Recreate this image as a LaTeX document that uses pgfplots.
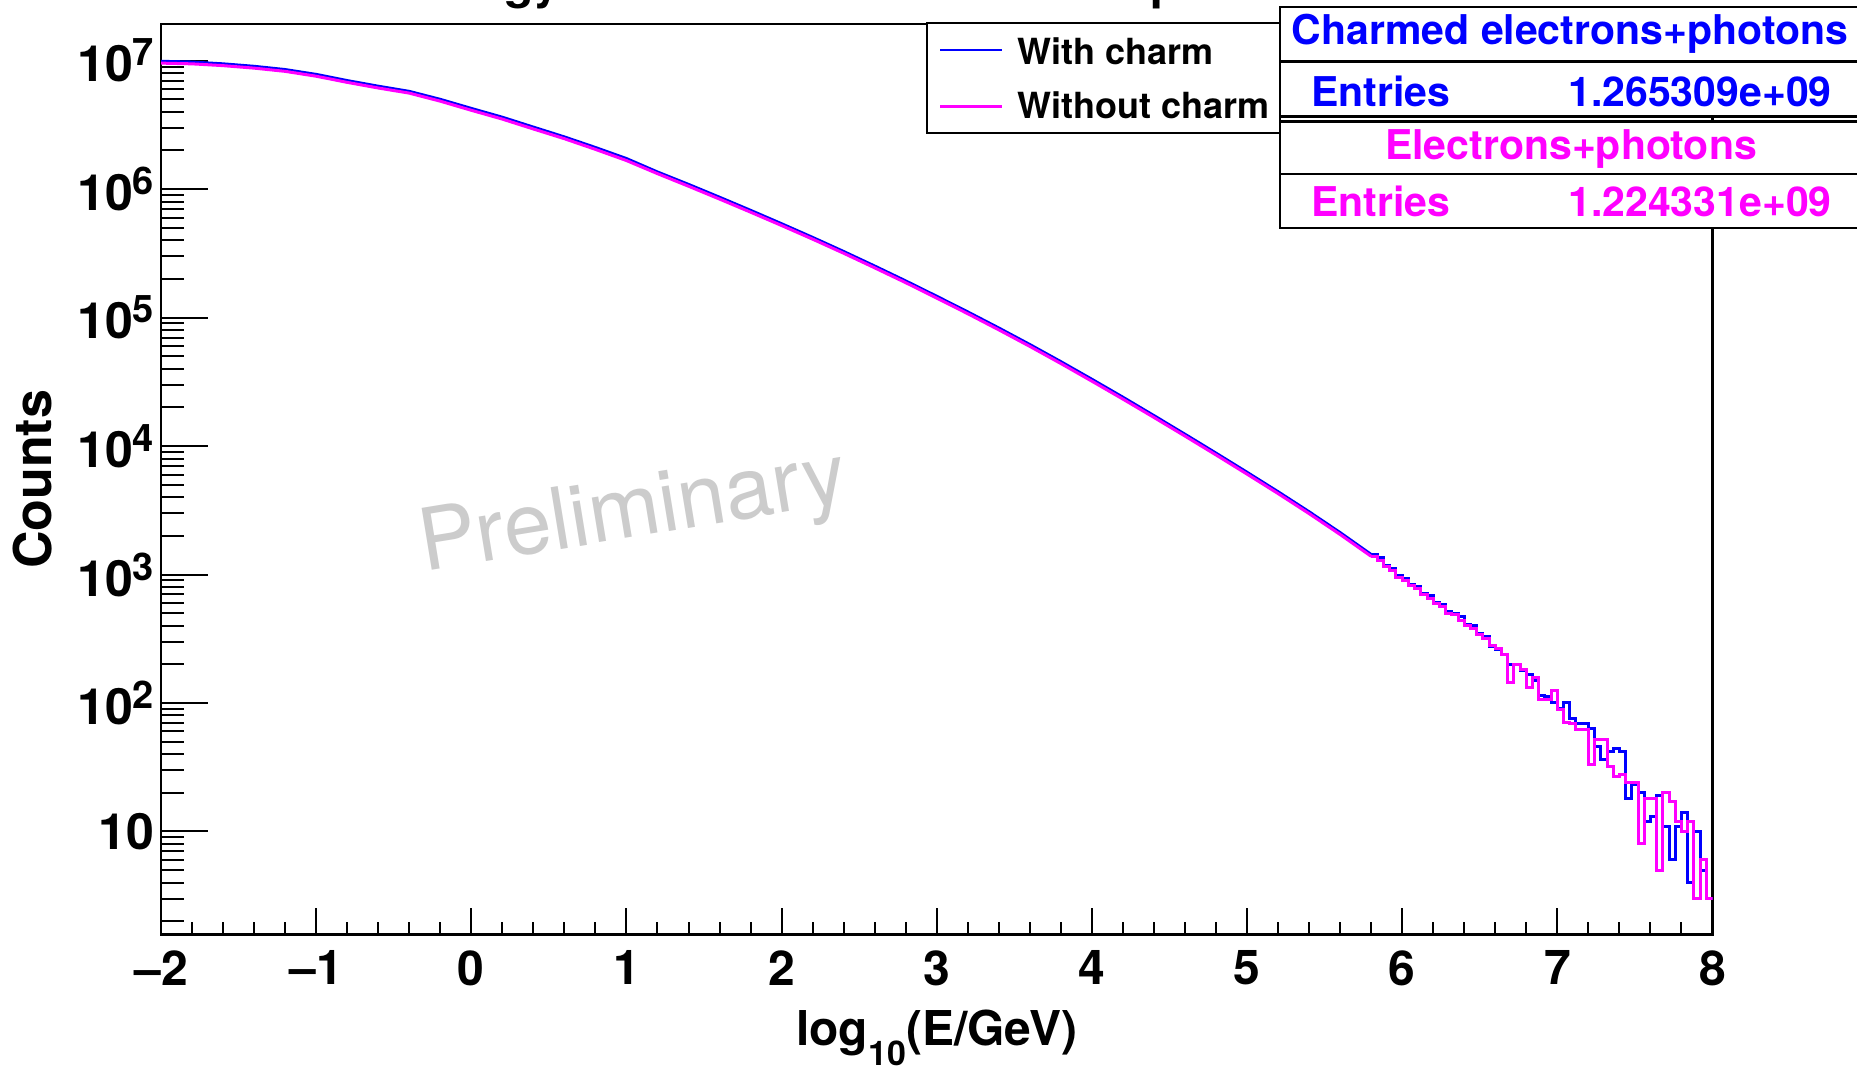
\documentclass[border=0pt]{standalone}
\usepackage{fontspec}
\setmainfont{TeX Gyre Heros}
\usepackage{pgfplots}
\pgfplotsset{compat=1.18}

\definecolor{rootblue}{RGB}{0,0,255}
\definecolor{rootmagenta}{RGB}{255,0,255}
\definecolor{prelimgray}{RGB}{204,204,204}

\newcommand{\ex}[1]{\raisebox{8pt}{\fontsize{19}{20}\selectfont #1}}

% smooth part of the spectra (log10 E, counts)
\pgfplotstableread{
x y
-2.0 9.89e6
-1.8 9.76e6
-1.6 9.45e6
-1.4 9.04e6
-1.2 8.53e6
-1.0 7.82e6
-0.8 7.00e6
-0.6 6.33e6
-0.4 5.77e6
-0.2 5.00e6
0.0 4.25e6
0.2 3.63e6
0.4 3.04e6
0.6 2.55e6
0.8 2.11e6
1.0 1.73e6
1.2 1.36e6
1.4 1.089e6
1.6 8.65e5
1.8 6.84e5
2.0 5.38e5
2.2 4.21e5
2.4 3.27e5
2.6 2.52e5
2.8 1.93e5
3.0 1.466e5
3.2 1.107e5
3.4 8.30e4
3.6 6.17e4
3.8 4.54e4
4.0 3.31e4
4.2 2.40e4
4.4 1.726e4
4.6 1.236e4
4.8 8810
5.0 6250
5.2 4410
5.4 3080
5.6 2120
5.8 1432
}\charmsmooth

\pgfplotstableread{
x y
-2.0 9.57e6
-1.8 9.45e6
-1.6 9.15e6
-1.4 8.75e6
-1.2 8.26e6
-1.0 7.57e6
-0.8 6.78e6
-0.6 6.13e6
-0.4 5.59e6
-0.2 4.84e6
0.0 4.11e6
0.2 3.51e6
0.4 2.94e6
0.6 2.47e6
0.8 2.04e6
1.0 1.67e6
1.2 1.32e6
1.4 1.054e6
1.6 8.37e5
1.8 6.62e5
2.0 5.21e5
2.2 4.08e5
2.4 3.17e5
2.6 2.44e5
2.8 1.87e5
3.0 1.419e5
3.2 1.072e5
3.4 8.03e4
3.6 5.97e4
3.8 4.39e4
4.0 3.20e4
4.2 2.32e4
4.4 1.671e4
4.6 1.196e4
4.8 8530
5.0 6050
5.2 4270
5.4 2980
5.6 2050
5.8 1386
}\nocharmsmooth

% tail, bins of 0.04 (lower edge, counts)
\pgfplotstableread{
x y
5.80 1432
5.84 1349
5.88 1175
5.92 1122
5.96 977
6.00 933
6.04 832
6.08 813
6.12 708
6.16 692
6.20 603
6.24 589
6.28 513
6.32 501
6.36 468
6.40 407
6.44 398
6.48 347
6.52 331
6.56 275
6.60 263
6.64 240
6.68 200
6.72 200
6.76 178
6.80 166
6.84 151
6.88 115
6.92 112
6.96 100
7.00 91
7.04 100
7.08 76
7.12 69
7.16 69
7.20 63
7.24 46
7.28 36
7.32 42
7.36 44
7.40 42
7.44 18
7.48 23
7.52 20
7.56 12
7.60 13
7.64 19
7.68 11
7.72 6
7.76 11
7.80 14
7.84 4
7.88 10
7.92 5
7.96 3
8.00 3
}\charmtail

\pgfplotstableread{
x y
5.80 1386
5.84 1290
5.88 1160
5.92 1080
5.96 955
6.00 900
6.04 820
6.08 775
6.12 700
6.16 650
6.20 590
6.24 560
6.28 500
6.32 485
6.36 440
6.40 400
6.44 380
6.48 339
6.52 316
6.56 282
6.60 265
6.64 240
6.68 145
6.72 200
6.76 182
6.80 132
6.84 158
6.88 107
6.92 107
6.96 126
7.00 89
7.04 70
7.08 69
7.12 62
7.16 62
7.20 33
7.24 52
7.28 52
7.32 32
7.36 27
7.40 28
7.44 24
7.48 24
7.52 8
7.56 18
7.60 18
7.64 5
7.68 20
7.72 17
7.76 12
7.80 10
7.84 12
7.88 3
7.92 6
7.96 3
8.00 3
}\nocharmtail

\begin{document}
\begin{tikzpicture}
\useasboundingbox (0,0) rectangle (928.5pt,536pt);

% y ticks (longer ones) on their own axis
\begin{axis}[
  at={(80.5pt,68.8pt)}, anchor=south west,
  width=775.75pt, height=455.05pt, scale only axis,
  xmin=-2, xmax=8,
  ymode=log, ymin=1.58, ymax=1.92e7,
  tick align=inside, tick pos=left,
  tick style={line width=1pt, black},
  hide x axis,
  axis line style={draw=none},
  major tick length=23.5pt, minor tick length=11.5pt,
  ytick={10,100,1000,1e4,1e5,1e6,1e7},
  yticklabels={10,10\ex{2},10\ex{3},10\ex{4},10\ex{5},10\ex{6},10\ex{7}},
  minor ytick={2,3,4,5,6,7,8,9,20,30,40,50,60,70,80,90,200,300,400,500,600,700,800,900,2e3,3e3,4e3,5e3,6e3,7e3,8e3,9e3,2e4,3e4,4e4,5e4,6e4,7e4,8e4,9e4,2e5,3e5,4e5,5e5,6e5,7e5,8e5,9e5,2e6,3e6,4e6,5e6,6e6,7e6,8e6,9e6},
  yticklabel style={font=\bfseries\fontsize{25}{28}\selectfont},
  ylabel={Counts},
  ylabel style={at={(axis description cs:-0.0703,0.5)}, anchor=base,
    font=\bfseries\fontsize{26}{28}\selectfont},
]
\addplot[draw=none, forget plot] coordinates {(-2,10) (8,10)};
\end{axis}

\begin{axis}[
  at={(80.5pt,68.8pt)}, anchor=south west,
  width=775.75pt, height=455.05pt, scale only axis,
  xmin=-2, xmax=8,
  ymode=log, ymin=1.58, ymax=1.92e7,
  tick align=inside, tick pos=left,
  tick style={line width=1pt, black},
  axis line style={line width=1.2pt},
  major tick length=13pt, minor tick length=6pt,
  xtick={-2,-1,0,1,2,3,4,5,6,7,8},
  xticklabels={\textendash2,\textendash1,0,1,2,3,4,5,6,7,8},
  minor x tick num=4,
  ytick=\empty,
  ytick style={draw=none},
  xticklabel style={font=\bfseries\fontsize{24}{28}\selectfont, yshift=-4.5pt},
  xlabel={log\raisebox{-10pt}{\fontsize{17}{20}\selectfont 10}(E/GeV)},
  xlabel style={at={(axis description cs:0.5,-0.1226)}, anchor=base,
    font=\bfseries\fontsize{24}{28}\selectfont},
]
\addplot[rootblue, line width=1.5pt] table {\charmsmooth};
\addplot[rootblue, line width=1.5pt, const plot mark left] table {\charmtail};
\addplot[rootmagenta, line width=1.5pt] table {\nocharmsmooth};
\addplot[rootmagenta, line width=1.5pt, const plot mark left] table {\nocharmtail};
\end{axis}

% watermark
\node[anchor=base west, rotate=9.3, inner sep=0pt, text=prelimgray,
  font=\fontsize{43}{46}\selectfont] at (211.85pt,250.15pt) {Preliminary};

% title, cut by the top of the canvas
\node[anchor=base west, inner sep=0pt, font=\bfseries\fontsize{24}{28}\selectfont]
  at (198.5pt,536.5pt) {Energy distribution of electrons+photons};

% legend
\filldraw[line width=1.2pt, fill=white, draw=black] (463.35pt,469.35pt) rectangle (640pt,524.35pt);
\draw[rootblue, line width=1.4pt] (470pt,511pt) -- (500.85pt,511pt);
\draw[rootmagenta, line width=1.4pt] (470pt,482.65pt) -- (500.85pt,482.65pt);
\begin{scope}[font=\bfseries\fontsize{18}{20}\selectfont, inner sep=0pt]
\node[anchor=base west] at (508.35pt,503.85pt) {With charm};
\node[anchor=base west] at (508.35pt,476.85pt) {Without charm};
\end{scope}

% stat boxes
\begin{scope}[line width=1.2pt]
\filldraw[fill=white, draw=black] (640pt,477.65pt) rectangle (930pt,532.35pt);
\draw (640pt,505.15pt) -- (930pt,505.15pt);
\filldraw[fill=white, draw=black] (640pt,421.85pt) rectangle (930pt,475.15pt);
\draw (640pt,449pt) -- (930pt,449pt);
\end{scope}
\begin{scope}[font=\bfseries\fontsize{20.5}{24}\selectfont, inner sep=0pt]
\node[anchor=base, text=rootblue] at (785pt,513.5pt) {Charmed electrons+photons};
\node[anchor=base west, text=rootblue] at (655.5pt,482.5pt) {Entries};
\node[anchor=base east, text=rootblue] at (916pt,482.5pt) {1.265309e+09};
\node[anchor=base, text=rootmagenta] at (785.5pt,456pt) {Electrons+photons};
\node[anchor=base west, text=rootmagenta] at (655.5pt,427.5pt) {Entries};
\node[anchor=base east, text=rootmagenta] at (916pt,427.5pt) {1.224331e+09};
\end{scope}
\end{tikzpicture}
\end{document}
